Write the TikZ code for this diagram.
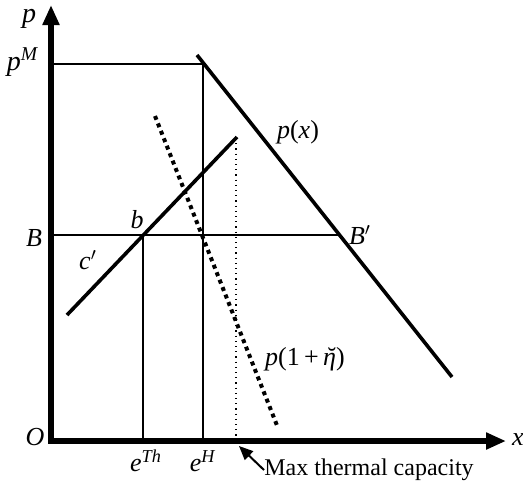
\documentclass[tikz,border=0pt]{standalone}
\usepackage{fontspec}
\setmainfont{Liberation Serif}
\usetikzlibrary{arrows.meta}

\newcommand{\breveeta}{\ooalign{\textit{η}\cr\hidewidth\kern0.18em ˘\hidewidth\cr}}

\begin{document}
\begin{tikzpicture}[x=0.5pt, y=-0.5pt, every node/.style={font=\fontsize{13}{15}\selectfont, inner sep=0pt},
    axis/.style={line width=2.6pt, -{Triangle[length=10pt, width=8pt]}},
    thinline/.style={line width=1pt},
    curve/.style={line width=1.8pt},
    dotline/.style={line width=2pt, dash pattern=on 2pt off 2pt},
    capline/.style={line width=0.6pt, dotted}]
    \useasboundingbox (0,0) rectangle (523,484);

    % Axes
    \coordinate (O) at (51,441);
    \coordinate (ytip) at (51,5);
    \coordinate (xtip) at (506,441);
    \draw[axis] ([yshift=-1.3pt]O) -- (ytip);
    \draw[axis] ([xshift=-1.3pt]O) -- (xtip);
    \node (lO) at (35,437) {\textit{O}};
    \node (lp) at (29,19) {\fontsize{14}{16}\selectfont\textit{p}};
    \node (lx) at (518,440) {\textit{x}};

    % Monopoly price and e^H
    \coordinate (pM) at (51,64);
    \coordinate (H) at (203,64);
    \coordinate (eH) at (203,441);
    \draw[thinline] (pM) -- (H) -- (eH);
    \node (lpM) at (23,62) {\fontsize{14}{16}\selectfont\textit{p}\textsuperscript{\textit{M}}};
    \node (leH) at (203,461) {\textit{e}\textsuperscript{\textit{H}}};

    % Demand p(x)
    \coordinate (D1) at (197,55);
    \coordinate (D2) at (452,377);
    \draw[curve] (D1) -- (D2);
    \node (lpx) at (298,132) {\textit{p}(\textit{x})};

    % Level B
    \coordinate (B) at (51,235);
    \coordinate (Bp) at (339,235);
    \draw[thinline] (B) -- (Bp);
    \node (lB) at (34,238) {\textit{B}};
    \node (lBp) at (360,235) {\textit{B}$'$};

    % Marginal cost c'
    \coordinate (c1) at (67,315);
    \coordinate (c2) at (237,137);
    \coordinate (b) at (143,235);
    \coordinate (eTh) at (143,441);
    \draw[curve] (c1) -- (c2);
    \draw[thinline] (b) -- (eTh);
    \node (lb) at (137,220) {\textit{b}};
    \node (lc) at (88,260) {\textit{c}$'$};
    \node (leTh) at (146,461) {\textit{e}\textsuperscript{\textit{Th}}};

    % p(1+eta)
    \coordinate (q1) at (155,116);
    \coordinate (q2) at (278,428);
    \draw[dotline] (q1) -- (q2);
    \node (lq) at (305,359) {\textit{p}(1\,+\,\breveeta)};

    % Max thermal capacity
    \coordinate (cap1) at (236,138);
    \coordinate (cap2) at (236,441);
    \draw[capline] (cap1) -- (cap2);
    \node[anchor=west, font=\fontsize{12}{14}\selectfont] (lcap) at (264,470) {Max thermal capacity};
    \draw[line width=1pt, -{Triangle[length=7pt, width=6pt]}] (lcap.west) -- (239,446);
\end{tikzpicture}
\end{document}
